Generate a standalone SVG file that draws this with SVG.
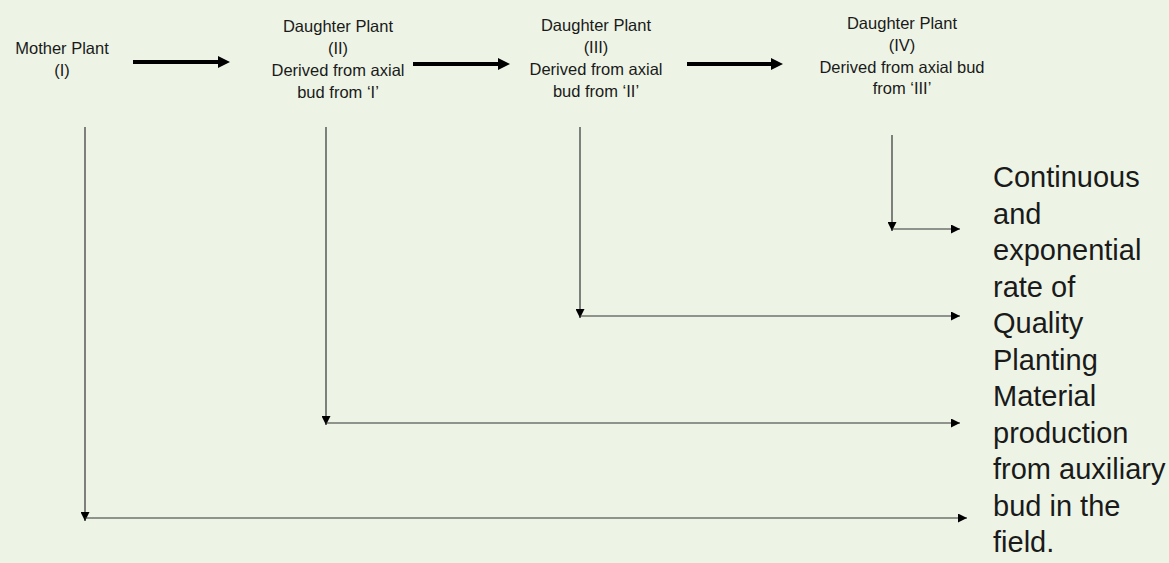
<svg xmlns="http://www.w3.org/2000/svg" width="1169" height="563" viewBox="0 0 1169 563">
<style>
.lbl{font-family:"Liberation Sans",Arial,sans-serif;font-size:16.5px;fill:#1a1a1a;text-anchor:middle}
.big{font-family:"Liberation Sans",Arial,sans-serif;font-size:29px;fill:#1a1a1a}
.thick{stroke:#000;stroke-width:4;fill:none}
.thin{stroke:#333;stroke-width:1.2;fill:none;marker-end:url(#ah)}
</style>
<defs>
<marker id="ah" markerUnits="userSpaceOnUse" markerWidth="9" markerHeight="9" refX="9" refY="4.5" orient="auto">
<path d="M0,0 L9,4.5 L0,9 z" fill="#000"/>
</marker>
</defs>
<rect width="1169" height="563" fill="#EDF4E5"/>
<g id="mother">
<text class="lbl" x="62" y="54">Mother Plant</text>
<text class="lbl" x="62" y="76">(I)</text>
</g>
<g id="daughter2">
<text class="lbl" x="338" y="32">Daughter Plant</text>
<text class="lbl" x="338" y="54">(II)</text>
<text class="lbl" x="338" y="76">Derived from axial</text>
<text class="lbl" x="338" y="98">bud from ‘I’</text>
</g>
<g id="daughter3">
<text class="lbl" x="596" y="31">Daughter Plant</text>
<text class="lbl" x="596" y="53">(III)</text>
<text class="lbl" x="596" y="75">Derived from axial</text>
<text class="lbl" x="596" y="97">bud from ‘II’</text>
</g>
<g id="daughter4">
<text class="lbl" x="902" y="29">Daughter Plant</text>
<text class="lbl" x="902" y="51">(IV)</text>
<text class="lbl" x="902" y="73">Derived from axial bud</text>
<text class="lbl" x="902" y="94">from ‘III’</text>
</g>
<g id="result">
<text class="big" x="993" y="187">Continuous</text>
<text class="big" x="993" y="223.5">and</text>
<text class="big" x="993" y="260">exponential</text>
<text class="big" x="993" y="296.5">rate of</text>
<text class="big" x="993" y="333">Quality</text>
<text class="big" x="993" y="369.5">Planting</text>
<text class="big" x="993" y="406">Material</text>
<text class="big" x="993" y="442.5">production</text>
<text class="big" x="993" y="479">from auxiliary</text>
<text class="big" x="993" y="515.5">bud in the</text>
<text class="big" x="993" y="552">field.</text>
</g>
<g id="connectors">
<line class="thick" x1="133" y1="62" x2="219" y2="62"/>
<polygon points="218,56 230,62 218,68" fill="#000"/>
<line class="thick" x1="413" y1="64" x2="499" y2="64"/>
<polygon points="498,58 510,64 498,70" fill="#000"/>
<line class="thick" x1="687" y1="64" x2="772" y2="64"/>
<polygon points="771,58 783,64 771,70" fill="#000"/>
<line class="thin" x1="85" y1="127" x2="85" y2="521"/>
<line class="thin" x1="85" y1="518" x2="967" y2="518"/>
<line class="thin" x1="326" y1="127" x2="326" y2="425"/>
<line class="thin" x1="326" y1="423" x2="960" y2="423"/>
<line class="thin" x1="580" y1="127" x2="580" y2="318"/>
<line class="thin" x1="580" y1="316" x2="960" y2="316"/>
<line class="thin" x1="892" y1="135" x2="892" y2="231"/>
<line class="thin" x1="892" y1="229" x2="960" y2="229"/>
</g>
</svg>
